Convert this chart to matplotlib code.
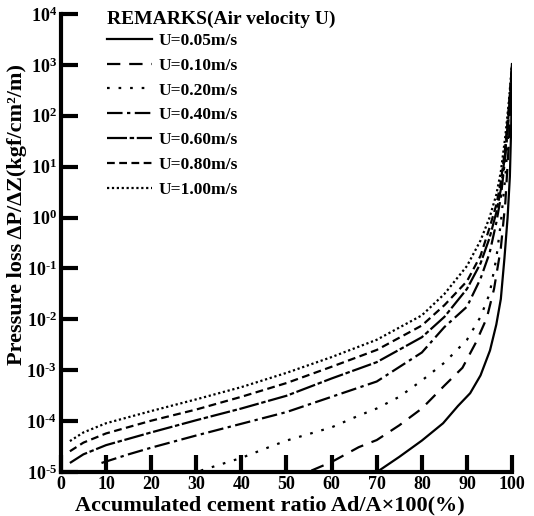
import numpy as np
import matplotlib
matplotlib.use("Agg")
import matplotlib.pyplot as plt
from matplotlib.ticker import FixedLocator, FixedFormatter

plt.rcParams['font.family'] = ['Liberation Serif', 'DejaVu Serif']
plt.rcParams['font.weight'] = 'bold'
plt.rcParams['mathtext.fontset'] = 'custom'
plt.rcParams['mathtext.rm'] = 'Liberation Serif:bold'
plt.rcParams['mathtext.bf'] = 'Liberation Serif:bold'
plt.rcParams['mathtext.default'] = 'bf'

# curves: x = accumulated cement ratio (%), y = log10 of pressure loss
labels = ["U=0.05m/s", "U=0.10m/s", "U=0.20m/s", "U=0.40m/s",
          "U=0.60m/s", "U=0.80m/s", "U=1.00m/s"]

x_005 = [70, 75, 80, 84.7, 88, 90.7, 93, 95.1, 96.5, 97.5, 98.3, 99, 99.5, 99.8, 100]
y_005 = [-5.0, -4.7, -4.38, -4.04, -3.7, -3.45, -3.1, -2.61, -2.1, -1.6, -0.8, 0.0, 0.8, 1.8, 3.0]

x_010 = [55.5, 60, 66, 70, 75, 80, 85, 89, 92, 94.4, 96, 97.5, 98.5, 99.3, 100]
y_010 = [-4.97, -4.8, -4.51, -4.37, -4.08, -3.75, -3.3, -2.95, -2.45, -1.97, -1.4, -0.6, 0.3, 1.5, 3.0]

x_020 = [31, 40, 46.4, 50, 60, 66, 70, 75, 80, 85, 90, 93, 95, 96.5, 97.5, 98.5, 99.3, 100]
y_020 = [-4.97, -4.72, -4.5, -4.38, -4.12, -3.89, -3.75, -3.52, -3.2, -2.85, -2.4, -1.95, -1.5, -0.8, -0.1, 0.8, 1.8, 3.0]

x_040 = [9, 15, 20, 30, 40, 50, 60, 70, 80, 85, 90, 93, 95, 96.5, 97.5, 98.5, 99.3, 100]
y_040 = [-4.82, -4.65, -4.52, -4.28, -4.05, -3.82, -3.52, -3.22, -2.65, -2.15, -1.75, -1.2, -0.7, -0.1, 0.4, 1.2, 2.0, 3.0]

x_060 = [2, 5, 10, 20, 30, 40, 50, 60, 70, 80, 85, 90, 93, 95, 96.5, 97.5, 98.5, 99.3, 100]
y_060 = [-4.82, -4.65, -4.47, -4.22, -3.98, -3.75, -3.5, -3.16, -2.84, -2.35, -1.95, -1.4, -0.9, -0.4, 0.1, 0.55, 1.3, 2.1, 3.0]

x_080 = [2, 5, 10, 20, 30, 40, 50, 60, 70, 80, 85, 90, 93, 95, 96.5, 97.5, 98.5, 99.3, 100]
y_080 = [-4.59, -4.42, -4.24, -3.99, -3.77, -3.52, -3.25, -2.93, -2.6, -2.12, -1.72, -1.25, -0.75, -0.2, 0.25, 0.7, 1.4, 2.2, 3.0]

x_100 = [2, 5, 10, 20, 30, 40, 50, 60, 70, 80, 85, 90, 93, 95, 96.5, 97.5, 98.5, 99.3, 100]
y_100 = [-4.39, -4.22, -4.04, -3.8, -3.57, -3.33, -3.05, -2.74, -2.4, -1.92, -1.5, -0.95, -0.45, 0.0, 0.45, 0.9, 1.6, 2.3, 3.05]

xs = [x_005, x_010, x_020, x_040, x_060, x_080, x_100]
ys = [y_005, y_010, y_020, y_040, y_060, y_080, y_100]

styles = ['-', (0, (6, 4)), (0, (1.2, 4)), (0, (7, 2, 1.5, 2)),
          (0, (9, 1.2, 2, 1.2)), (0, (3.5, 2)), (0, (1, 1.2))]

fig = plt.figure(figsize=(5.34, 5.16), dpi=100)
ax = fig.add_axes([0.114, 0.085, 0.845, 0.888])

for x, y, ls, lab in zip(xs, ys, styles, labels):
    ax.plot(x, 10 ** np.array(y), color='black', lw=1.6, linestyle=ls, label=lab)

ax.set_yscale('log')
ax.set_xlim(0, 100)
ax.set_ylim(1e-5, 1e4)

for s in ['top', 'right']:
    ax.spines[s].set_visible(False)
for s in ['left', 'bottom']:
    ax.spines[s].set_linewidth(3)

ax.xaxis.set_major_locator(FixedLocator(range(0, 101, 10)))
ax.set_xticklabels([str(v) for v in range(0, 101, 10)], fontsize=13, fontweight='bold')
ydec = list(range(-5, 5))
ax.yaxis.set_major_locator(FixedLocator([10.0 ** d for d in ydec]))
ax.yaxis.set_minor_locator(FixedLocator([]))
ylabels = [r'$10^{\text{-}%d}$' % (-d) if d < 0 else r'$10^{%d}$' % d for d in ydec]
ax.yaxis.set_major_formatter(FixedFormatter(ylabels))
ax.tick_params(axis='both', direction='in', width=3, length=12, labelsize=13, pad=3)
ax.tick_params(axis='x', pad=3, labelsize=13)

ax.set_xlabel('Accumulated cement ratio Ad/A\u00d7100(%)', fontsize=16, fontweight='bold')
ax.xaxis.label.set_va('center')
ax.xaxis.set_label_coords(0.463, -0.073)
ax.set_ylabel('Pressure loss \u0394P/\u0394Z(kgf/cm\u00b2/m)', fontsize=16, fontweight='bold')
ax.yaxis.label.set_va('center')
ax.yaxis.label.set_ha('center')
ax.yaxis.set_label_coords(-0.098, 0.563)

fig.text(107 / 534, 1 - 19 / 516, 'REMARKS(Air velocity U)', fontsize=14, fontweight='bold',
         ha='left', va='center')
leg = ax.legend(loc='upper left', bbox_to_anchor=(0.102, 0.959), frameon=False,
                fontsize=12.5, handlelength=2.6, handletextpad=0.4,
                labelspacing=0.5, borderpad=0.0, borderaxespad=0.0)

fig.savefig('out.png', dpi=100)
